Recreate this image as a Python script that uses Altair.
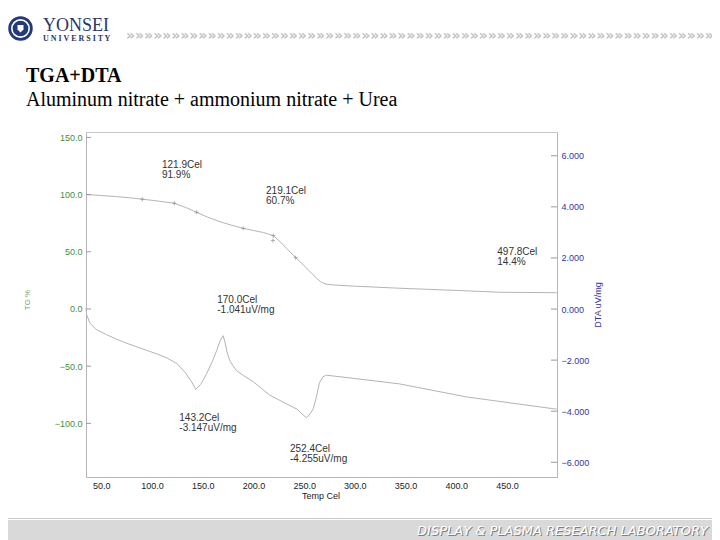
import altair as alt
import pandas as pd

# ---------------- data ----------------
temp_tga = [35, 50, 65, 80, 90, 100, 110, 122, 133, 144, 155, 167, 178, 190, 200, 210,
            219.6, 226, 233, 241.6, 248, 256, 262, 266, 270.5, 278.7, 300, 344.5, 400, 443, 499]
tga_pct = [100, 99.2, 98.2, 97.0, 96.0, 95.0, 93.8, 92.4, 88.8, 84.5, 80.2, 76.3, 73.3, 70.5, 68.6, 66.8,
           64.1, 59.0, 52.6, 44.9, 39.5, 32.4, 27.0, 24.0, 21.9, 21.0, 19.9, 18.1, 16.2, 14.6, 14.2]

temp_dta = [34.9, 35.6, 38.8, 45, 55, 65, 75, 85, 95, 105, 115, 125, 133, 139, 143.2, 148, 154, 160,
            164, 167, 170, 172, 174, 177, 183, 190, 200, 216, 232, 243, 249, 252.4, 256, 259, 262,
            265, 268.5, 272, 300, 344, 410, 499]
dta_uv = [0.04, -0.23, -0.56, -0.8, -1.0, -1.18, -1.34, -1.48, -1.62, -1.76, -1.92, -2.15, -2.5, -2.85,
          -3.147, -2.95, -2.52, -2.0, -1.6, -1.25, -1.041, -1.3, -1.7, -2.05, -2.4, -2.6, -2.85, -3.37,
          -3.7, -3.92, -4.15, -4.255, -4.1, -3.9, -3.45, -2.9, -2.65, -2.59, -2.72, -2.93, -3.44, -3.92]

marker_temp = [90.4, 122.0, 144.0, 190.0, 219.6, 219.2, 241.6]
marker_pct = [95.9, 92.4, 84.5, 70.5, 64.1, 59.8, 44.9]

tga_note_temp = [109.8, 212.4, 440.4]
tga_note_pct = [122.8, 100.1, 46.9]
tga_note_text = ["121.9Cel\n91.9%", "219.1Cel\n60.7%", "497.8Cel\n14.4%"]

dta_note_temp = [164.3, 126.9, 236.0]
dta_note_uv = [0.254, -4.38, -5.60]
dta_note_text = ["170.0Cel\n-1.041uV/mg", "143.2Cel\n-3.147uV/mg", "252.4Cel\n-4.255uV/mg"]

x_ticks = [50, 100, 150, 200, 250, 300, 350, 400, 450]
tg_ticks = [-100, -50, 0, 50, 100, 150]
dta_ticks = [-6, -4, -2, 0, 2, 4, 6]

title_text = "TGA+DTA"
subtitle_text = "Aluminum nitrate + ammonium nitrate + Urea"
footer_text = "DISPLAY & PLASMA RESEARCH LABORATORY"

# ---------------- tables ----------------
tga_df = pd.DataFrame({"temp": temp_tga, "val": tga_pct})
dta_df = pd.DataFrame({"temp": temp_dta, "val": dta_uv})
mk_df = pd.DataFrame({"temp": marker_temp, "val": marker_pct})
tn_df = pd.DataFrame({"temp": tga_note_temp, "val": tga_note_pct, "txt": tga_note_text})
dn_df = pd.DataFrame({"temp": dta_note_temp, "val": dta_note_uv, "txt": dta_note_text})
tgt_df = pd.DataFrame({"val": tg_ticks})
dtt_df = pd.DataFrame({"val": dta_ticks})

W, H = 471, 345
GREEN = "#3f8f3f"
BLUE = "#3535a5"
LINE = "#b4b4b4"
SANS = "Liberation Sans"

xs = alt.Scale(domain=[34.9, 499.3], nice=False, zero=False)
ys_tg = alt.Scale(domain=[-146.9, 154.7], nice=False, zero=False)
ys_dta = alt.Scale(domain=[-6.575, 6.93], nice=False, zero=False)

X = alt.X("temp:Q", scale=xs, axis=alt.Axis(values=x_ticks, format=".1f", title=None, ticks=False,
                                              grid=False, labelFont=SANS, labelFontSize=9,
                                              labelColor="#222222", labelPadding=4,
                                              domainColor="#b5b5b5"))

tga_line = alt.Chart(tga_df).mark_line(color=LINE, strokeWidth=1).encode(
    x=X,
    y=alt.Y("val:Q", scale=ys_tg, axis=alt.Axis(orient="left", values=tg_ticks, format=".1f", title=None,
                                                ticks=False, grid=False, labelFont=SANS, labelFontSize=9,
                                                labelColor=GREEN, labelPadding=4, domainColor="#b5b5b5")),
)
tga_marks = alt.Chart(mk_df).mark_point(shape="M-1,0L1,0M0,-1L0,1", size=16, color="#8a8a8a",
                                        strokeWidth=1).encode(
    x=X, y=alt.Y("val:Q", scale=ys_tg, axis=None))
tga_notes = alt.Chart(tn_df).mark_text(align="left", baseline="alphabetic", lineBreak="\n", lineHeight=10,
                                       font=SANS, fontSize=10, color="#333333").encode(
    x=X, y=alt.Y("val:Q", scale=ys_tg, axis=None), text="txt:N")
tg_tick_rules = alt.Chart(tgt_df).mark_rule(color="#9a9a9a", strokeWidth=1).encode(
    x=alt.value(0), x2=alt.value(5), y=alt.Y("val:Q", scale=ys_tg, axis=None))

dta_line = alt.Chart(dta_df).mark_line(color=LINE, strokeWidth=1).encode(
    x=X,
    y=alt.Y("val:Q", scale=ys_dta, axis=alt.Axis(orient="right", values=dta_ticks, format=".3f", title=None,
                                                 ticks=False, grid=False, labelFont=SANS, labelFontSize=9,
                                                 labelColor=BLUE, labelPadding=4, domainColor="#b5b5b5")),
)
dta_notes = alt.Chart(dn_df).mark_text(align="left", baseline="alphabetic", lineBreak="\n", lineHeight=10,
                                       font=SANS, fontSize=10, color="#333333").encode(
    x=X, y=alt.Y("val:Q", scale=ys_dta, axis=None), text="txt:N")
dta_tick_rules = alt.Chart(dtt_df).mark_rule(color="#9a9a9a", strokeWidth=1).encode(
    x=alt.value(W - 6), x2=alt.value(W), y=alt.Y("val:Q", scale=ys_dta, axis=None))

one = alt.Data(values=[{"k": 1}])


def txt(s, x, y, **kw):
    return alt.Chart(one).mark_text(**kw).encode(x=alt.value(x), y=alt.value(y), text=alt.value(s))


def box(x, x2, y, y2, color):
    return alt.Chart(one).mark_rect(color=color).encode(
        x=alt.value(x), x2=alt.value(x2), y=alt.value(y), y2=alt.value(y2))


EMB_X, EMB_Y = -65.5, -103.5
# page coordinates -> plot coordinates: subtract (86, 132)
decor = [
    # axis titles
    txt("TG %", -58, 168, angle=270, align="center", baseline="middle", font=SANS, fontSize=8, color="#6aa86a"),
    txt("DTA uV/mg", 512, 173, angle=270, align="center", baseline="middle", font=SANS, fontSize=9, color=BLUE),
    txt("Temp Cel", 235, 364, align="center", baseline="middle", font=SANS, fontSize=9, color="#222222"),
    # header
    txt(title_text, -60, -50, align="left", baseline="alphabetic", font="Liberation Serif", fontSize=20,
        fontWeight="bold", color="#000000"),
    txt(subtitle_text, -60, -26, align="left", baseline="alphabetic", font="Liberation Serif", fontSize=20,
        color="#000000"),
    alt.Chart(one).mark_point(shape="circle", filled=True, size=600, color="#22397a", opacity=1).encode(
        x=alt.value(EMB_X), y=alt.value(EMB_Y)),
    alt.Chart(one).mark_point(shape="circle", filled=False, size=300, color="#ffffff", strokeWidth=1.6,
                              opacity=1).encode(x=alt.value(EMB_X), y=alt.value(EMB_Y)),
    alt.Chart(one).mark_point(shape="M-0.6,-0.7L0.6,-0.7L0.6,0.2L0,0.8L-0.6,0.2Z", filled=True, size=100,
                              color="#ffffff", opacity=1).encode(x=alt.value(EMB_X), y=alt.value(EMB_Y)),
    txt("YONSEI", -43, -101.5, align="left", baseline="alphabetic", font="Liberation Serif", fontSize=18,
        color="#2a3766"),
    txt("U N I V E R S I T Y", -43, -91.5, align="left", baseline="alphabetic", font="Liberation Serif",
        fontSize=8, fontWeight="bold", color="#2a3766"),
    txt("\u00bb" * 75, 40, -96, align="left", baseline="middle", font="DejaVu Sans", fontSize=14,
        fontWeight="bold", color="#c2c2c2"),
    # footer band
    box(-90, 640, 386, 387, "#c9c9c9"),
    box(-90, 640, 388, 410, "#d9d9d9"),
    txt(footer_text, 623, 399.5, align="right", baseline="middle", font="DejaVu Sans", fontSize=13,
        fontStyle="italic", color="#7c7c7c"),
    txt(footer_text, 622, 398.5, align="right", baseline="middle", font="DejaVu Sans", fontSize=13,
        fontStyle="italic", color="#ffffff"),
]

chart = alt.layer(
    tga_line, tga_marks, tga_notes, tg_tick_rules,
    dta_line, dta_notes, dta_tick_rules,
    *decor,
).resolve_scale(y="independent").properties(
    width=W, height=H,
    autosize=alt.AutoSizeParams(type="none"),
    padding={"left": 78, "top": 124, "right": 155, "bottom": 63},
    background="#ffffff",
).configure_view(stroke="#c8c8c8", strokeWidth=1)

chart.save("out.html", embed_options={"renderer": "svg", "actions": False})
